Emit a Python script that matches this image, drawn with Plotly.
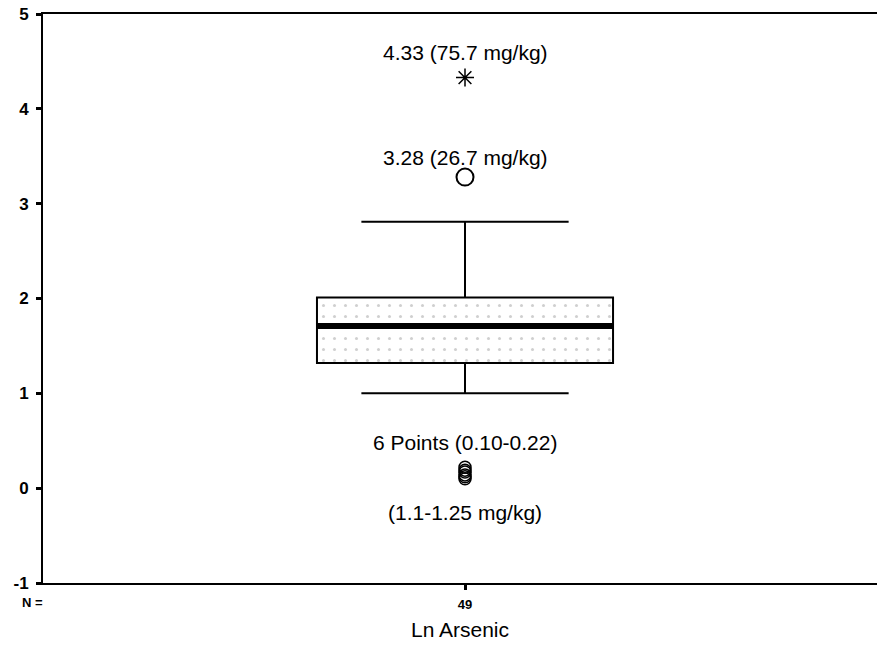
import plotly.graph_objects as go

# ---- data ----
category_n = ["49"]
y_tick_values = [-1, 0, 1, 2, 3, 4, 5]
y_tick_labels = ["-1", "0", "1", "2", "3", "4", "5"]
q1 = [1.32]
median = [1.71]
q3 = [2.01]
lower_whisker = [1.0]
upper_whisker = [2.81]
extreme_value = [4.33]           # asterisk
outlier_value = [3.28]           # circle
low_points = [0.10, 0.12, 0.14, 0.17, 0.19, 0.22]  # six points
label_extreme = "4.33 (75.7 mg/kg)"
label_outlier = "3.28 (26.7 mg/kg)"
label_low_top = "6 Points (0.10-0.22)"
label_low_bottom = "(1.1-1.25 mg/kg)"
x_title = "Ln Arsenic"

# ---- style ----
FONT = "Liberation Sans, Arial, sans-serif"
box_w = 0.71
x0 = 0

fig = go.Figure()

# faint stippled fill inside the box
fig.add_trace(go.Bar(
    x=[x0], base=q1, y=[q3[0] - q1[0]], width=box_w,
    marker=dict(color="white", line=dict(width=0),
                pattern=dict(shape=".", fgcolor="#a0a0a0", bgcolor="white",
                             size=11, solidity=0.06)),
    showlegend=False, hoverinfo="skip"))

fig.add_trace(go.Box(
    x=[x0], q1=q1, median=median, q3=q3,
    lowerfence=lower_whisker, upperfence=upper_whisker,
    width=box_w, whiskerwidth=0.70,
    fillcolor="rgba(0,0,0,0)", line=dict(color="black", width=2),
    boxpoints=False, showlegend=False))

# thick median line
fig.add_trace(go.Scatter(
    x=[x0 - box_w / 2, x0 + box_w / 2], y=[median[0], median[0]],
    mode="lines", line=dict(color="black", width=6), showlegend=False))

# outliers
fig.add_trace(go.Scatter(
    x=[x0] * len(extreme_value), y=extreme_value, mode="markers",
    marker=dict(symbol="asterisk-open", size=15, color="black",
                line=dict(color="black", width=1.5)), showlegend=False))
fig.add_trace(go.Scatter(
    x=[x0] * len(outlier_value), y=outlier_value, mode="markers",
    marker=dict(symbol="circle-open", size=17, color="black",
                line=dict(color="black", width=2)), showlegend=False))
fig.add_trace(go.Scatter(
    x=[x0] * len(low_points), y=low_points, mode="markers",
    marker=dict(symbol="circle-open", size=12, color="black",
                line=dict(color="black", width=1.5)), showlegend=False))

ann_font = dict(family=FONT, size=21, color="black")
fig.add_annotation(x=x0, y=extreme_value[0], text=label_extreme, showarrow=False,
                   yshift=25, font=ann_font)
fig.add_annotation(x=x0, y=outlier_value[0], text=label_outlier, showarrow=False,
                   yshift=20, font=ann_font)
fig.add_annotation(x=x0, y=max(low_points), text=label_low_top, showarrow=False,
                   yshift=25, font=ann_font)
fig.add_annotation(x=x0, y=min(low_points), text=label_low_bottom, showarrow=False,
                   yshift=-34, font=ann_font)
fig.add_annotation(xref="paper", yref="paper", x=-0.012, y=-0.035, text="N =",
                   xanchor="center", yanchor="middle",
                   showarrow=False,
                   font=dict(family=FONT, size=13, color="black", weight="bold"))

fig.update_layout(
    width=877, height=647,
    margin=dict(l=43, r=0, t=14, b=64),
    paper_bgcolor="white", plot_bgcolor="white",
    font=dict(family=FONT, color="black"),
    showlegend=False,
    xaxis=dict(range=[-1.012, 0.988], tickvals=[x0], ticktext=category_n,
               ticks="outside", ticklen=5, tickwidth=3, tickcolor="black",
               tickfont=dict(size=13, weight="bold"), ticklabelstandoff=3,
               showgrid=False, zeroline=False, showline=True, linewidth=2,
               linecolor="black", mirror=True,
               title=dict(text=x_title, font=dict(size=21), standoff=12)),
    yaxis=dict(range=[-1, 5], tickvals=y_tick_values, ticktext=y_tick_labels,
               ticks="outside", ticklen=5, tickwidth=3,
               tickcolor="black", tickfont=dict(size=17, weight="bold"),
               ticklabelstandoff=4,
               showgrid=False, zeroline=False, showline=True, linewidth=2,
               linecolor="black"),
)

fig.write_html(
    "out.html",
    config={"displayModeBar": False},
    post_script="document.body.style.margin='0';document.body.style.overflow='hidden';"
)
